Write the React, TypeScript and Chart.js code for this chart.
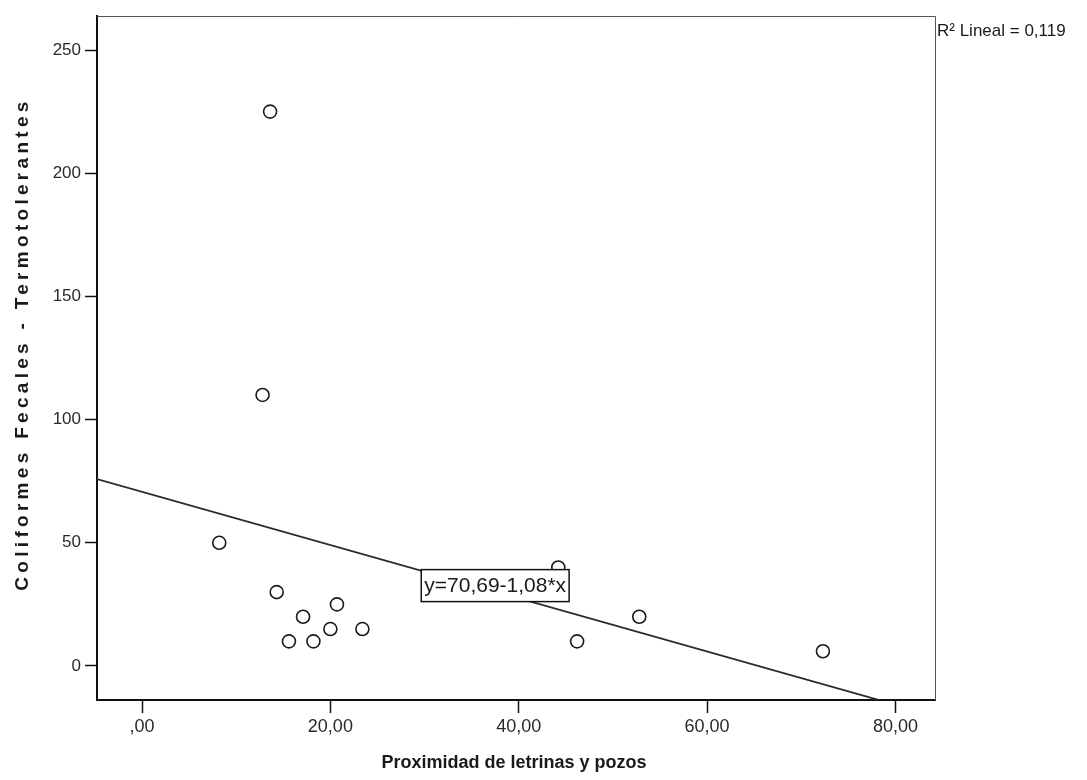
import React, { useEffect, useRef } from "react";
import { Chart, registerables } from "chart.js";

Chart.register(...registerables);

// ---- data ----
const xValues = [13.6, 12.8, 8.2, 14.3, 17.1, 15.6, 18.2, 20.0, 20.7, 23.4, 44.2, 46.2, 52.8, 72.3];
const yValues = [225, 110, 50, 30, 20, 10, 10, 15, 25, 15, 40, 10, 20, 6];

const xTicks = [0, 20, 40, 60, 80];
const xTickLabels = [",00", "20,00", "40,00", "60,00", "80,00"];
const yTicks = [0, 50, 100, 150, 200, 250];
const yTickLabels = ["0", "50", "100", "150", "200", "250"];

const xRange = [-4.78, 84.2];
const yRange = [-13.8, 263.8];

const fitIntercept = 70.69;
const fitSlope = -1.08;
const fitLabel = "y=70,69-1,08*x";
const fitLabelX = [37.5];
const r2Label = "R² Lineal = 0,119";

const xTitle = "Proximidad de letrinas y pozos";
const yTitle = "Coliformes Fecales - Termotolerantes";

const FONT = '"Liberation Sans", Arial, Helvetica, sans-serif';

const overlayPlugin = {
  id: "overlay",
  afterDatasetsDraw(chart: any) {
    const { ctx, chartArea: a, scales } = chart;
    const xs = scales.x;
    const ys = scales.y;
    ctx.save();
    // top & right frame
    ctx.strokeStyle = "#555";
    ctx.lineWidth = 1;
    ctx.beginPath();
    ctx.moveTo(a.left, a.top + 0.5);
    ctx.lineTo(a.right + 0.5, a.top + 0.5);
    ctx.lineTo(a.right + 0.5, a.bottom);
    ctx.stroke();

    // fit label
    const lx = fitLabelX[0];
    const px = xs.getPixelForValue(lx);
    const py = ys.getPixelForValue(fitIntercept + fitSlope * lx) - 6;
    ctx.font = `21px ${FONT}`;
    const w = ctx.measureText(fitLabel).width + 6;
    const h = 32;
    ctx.fillStyle = "#fff";
    ctx.fillRect(px - w / 2, py - h / 2, w, h);
    ctx.strokeStyle = "#111";
    ctx.lineWidth = 1.5;
    ctx.strokeRect(px - w / 2, py - h / 2, w, h);
    ctx.fillStyle = "#1a1a1a";
    ctx.textAlign = "center";
    ctx.textBaseline = "middle";
    ctx.fillText(fitLabel, px, py + 1);
    ctx.restore();
  },
  afterDraw(chart: any) {
    const { ctx, chartArea: a } = chart;
    ctx.save();
    ctx.fillStyle = "#1a1a1a";
    // R2 label
    ctx.font = `17px ${FONT}`;
    ctx.textAlign = "left";
    ctx.textBaseline = "middle";
    ctx.fillText(r2Label, a.right + 2, 31);

    // x title
    ctx.font = `bold 18px ${FONT}`;
    ctx.textAlign = "center";
    ctx.textBaseline = "middle";
    ctx.fillText(xTitle, (a.left + a.right) / 2 - 2, 763);

    // y title
    ctx.translate(23, 344);
    ctx.rotate(-Math.PI / 2);
    ctx.font = `bold 19px ${FONT}`;
    try {
      (ctx as any).letterSpacing = "4.3px";
    } catch (e) {}
    ctx.textAlign = "center";
    ctx.textBaseline = "middle";
    ctx.fillText(yTitle, 0, 0);
    ctx.restore();
  },
};

export default function App() {
  const ref = useRef<HTMLCanvasElement | null>(null);

  useEffect(() => {
    if (!ref.current) return;
    const points = xValues.map((x, i) => ({ x, y: yValues[i] }));
    const fitLine = xRange.map((x) => ({ x, y: fitIntercept + fitSlope * x }));

    const chart = new Chart(ref.current, {
      type: "scatter",
      data: {
        datasets: [
          {
            type: "line",
            data: fitLine,
            borderColor: "#2a2a2a",
            borderWidth: 1.8,
            pointRadius: 0,
            fill: false,
            clip: 0,
          } as any,
          {
            data: points,
            pointRadius: 6.5,
            pointBorderWidth: 1.6,
            borderColor: "#1a1a1a",
            backgroundColor: "rgba(0,0,0,0)",
            pointHoverRadius: 6.5,
          },
        ],
      },
      options: {
        animation: false,
        responsive: false,
        maintainAspectRatio: false,
        events: [],
        layout: { padding: { left: 0, right: 152, top: 16, bottom: 0 } },
        plugins: {
          legend: { display: false },
          tooltip: { enabled: false },
        },
        scales: {
          x: {
            type: "linear",
            min: xRange[0],
            max: xRange[1],
            afterBuildTicks: (s: any) => {
              s.ticks = xTicks.map((v) => ({ value: v }));
            },
            afterFit: (s: any) => {
              s.height = 80;
            },
            ticks: {
              autoSkip: false,
              maxRotation: 0,
              padding: 3,
              color: "#2a2a2a",
              font: { family: FONT, size: 18 },
              callback: (v: any) => {
                const i = xTicks.indexOf(Number(v));
                return i >= 0 ? xTickLabels[i] : "";
              },
            },
            grid: {
              drawOnChartArea: false,
              drawTicks: true,
              tickLength: 13,
              tickColor: "#111",
              tickWidth: 1.5,
            },
            border: { display: true, color: "#111", width: 2 },
          },
          y: {
            type: "linear",
            min: yRange[0],
            max: yRange[1],
            afterBuildTicks: (s: any) => {
              s.ticks = yTicks.map((v) => ({ value: v }));
            },
            afterFit: (s: any) => {
              s.width = 97;
            },
            ticks: {
              autoSkip: false,
              padding: 4,
              color: "#2a2a2a",
              font: { family: FONT, size: 17 },
              callback: (v: any) => {
                const i = yTicks.indexOf(Number(v));
                return i >= 0 ? yTickLabels[i] : "";
              },
            },
            grid: {
              drawOnChartArea: false,
              drawTicks: true,
              tickLength: 12,
              tickColor: "#111",
              tickWidth: 1.5,
            },
            border: { display: true, color: "#111", width: 2 },
          },
        },
      },
      plugins: [overlayPlugin],
    });
    return () => chart.destroy();
  }, []);

  return (
    <div style={{ position: "fixed", left: 0, top: 0, width: 1087, height: 780, background: "#fff" }}>
      <canvas ref={ref} width={1087} height={780} style={{ width: 1087, height: 780, display: "block" }} />
    </div>
  );
}
